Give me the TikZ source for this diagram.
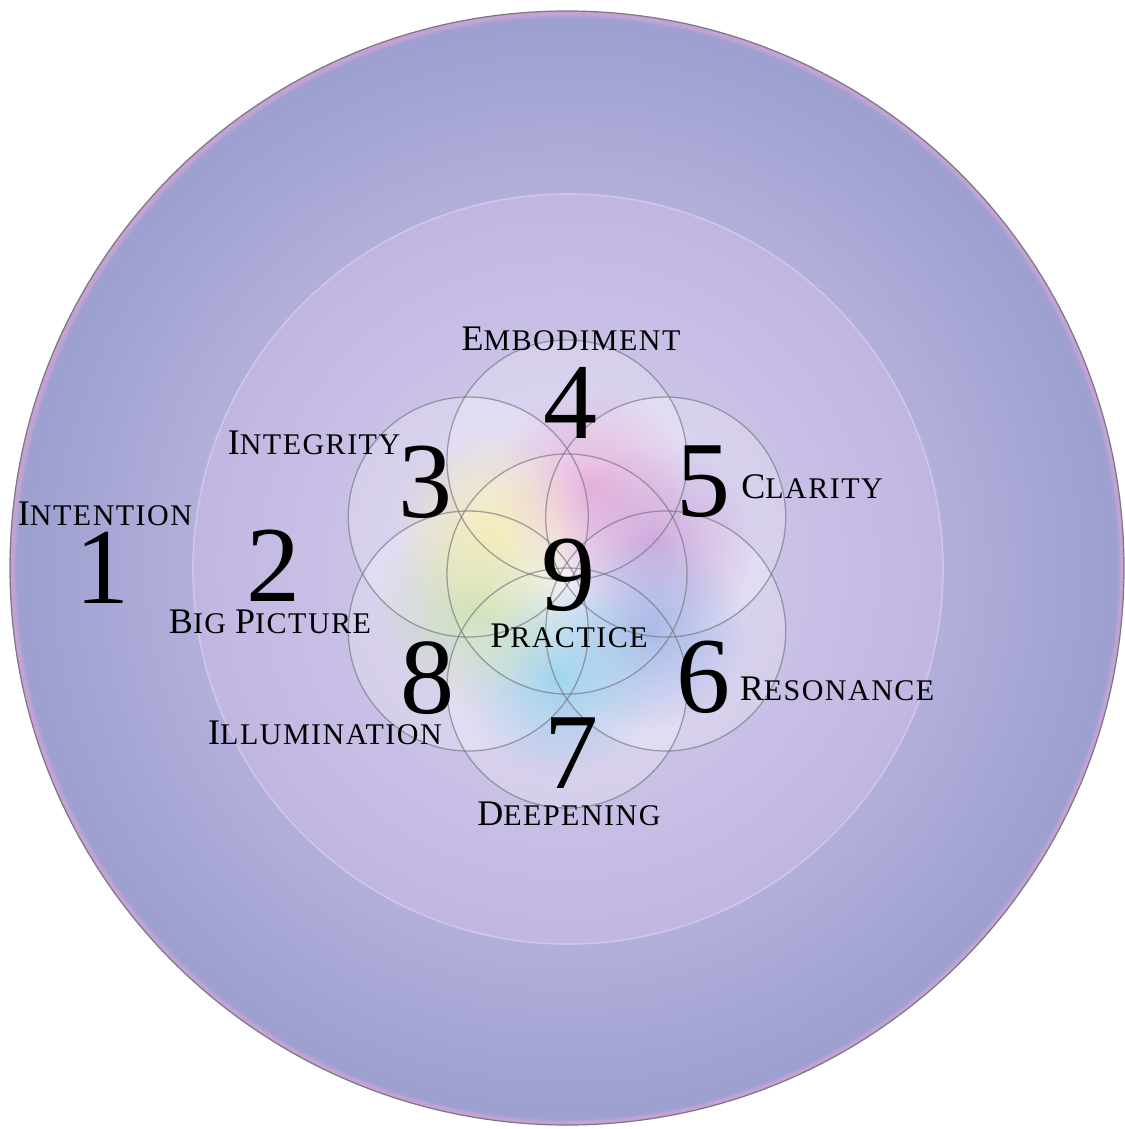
\documentclass[tikz,border=0pt]{standalone}
\usepackage{fontspec}
\setmainfont{Liberation Serif}
\usepackage{xcolor}
\usetikzlibrary{calc,fadings}
\definecolor{ringouter}{RGB}{158,160,208}
\definecolor{ringmid}{RGB}{178,175,219}
\definecolor{ringpink}{RGB}{196,162,212}
\definecolor{discedge}{RGB}{192,182,225}
\definecolor{discmid}{RGB}{206,197,233}
\definecolor{disccore}{RGB}{226,218,241}
\definecolor{edgeline}{RGB}{120,120,132}
\definecolor{ringline}{RGB}{208,198,232}
\definecolor{petalline}{RGB}{118,118,128}
\definecolor{blobpink}{RGB}{232,166,214}
\definecolor{blobmauve}{RGB}{200,156,216}
\definecolor{blobblue}{RGB}{148,176,230}
\definecolor{blobcyan}{RGB}{140,206,236}
\definecolor{blobgreen}{RGB}{196,224,172}
\definecolor{blobyellow}{RGB}{246,236,172}
\pgfdeclareradialshading{outerdisc}{\pgfpointorigin}{color(0bp)=(ringmid); color(16.8bp)=(ringmid); color(24.2bp)=(ringouter); color(24.7bp)=(ringouter); color(24.85bp)=(ringpink); color(25bp)=(ringpink); color(50bp)=(ringpink)}
\pgfdeclareradialshading{innerdisc}{\pgfpointorigin}{color(0bp)=(disccore); color(11bp)=(discmid); color(25bp)=(discedge); color(50bp)=(discedge)}
\tikzfading[name=softblob, inner color=transparent!0, outer color=transparent!100]
\newcommand{\initcap}[1]{{\fontsize{36}{36}\selectfont #1}}
\begin{document}
\begin{tikzpicture}[x=1pt, y=-1pt,
    numlabel/.style={font=\fontsize{108}{108}\selectfont, text=black, inner sep=0pt, anchor=base},
    namelabel/.style={font=\fontsize{30}{30}\selectfont\addfontfeature{LetterSpace=5}, text=black, inner sep=0pt, anchor=base},
    petal/.style={fill=white, fill opacity=0.24},
    petaledge/.style={draw=petalline, line width=1.3pt, draw opacity=0.65},
    blob/.style={path fading=softblob, fill opacity=0.8}
]
    \useasboundingbox (0,0) rectangle (1124,1129);
    \coordinate (hub) at (567,574);
    \foreach \ang/\nm in {90/p4, 30/p5, -30/p6, -90/p7, -150/p8, 150/p3}
        \coordinate (\nm) at ($(hub)+(\ang:114pt)$);

    % background rings
    \shade[shading=outerdisc] (567,568) circle[radius=557pt];
    \draw[edgeline, line width=1.2pt] (567,568) circle[radius=557pt];
    \shade[shading=innerdisc] (568,569) circle[radius=375pt];
    \draw[ringline, line width=1.6pt] (568,569) circle[radius=375pt];

    % petals
    \foreach \nm in {p3,p4,p5,p6,p7,p8}
        \fill[petal] (\nm) circle[radius=120pt];
    \fill[white, fill opacity=0.3] (hub) circle[radius=120pt];
    \foreach \ang/\dist/\col in {75/90/blobpink, 20/95/blobmauve, -35/100/blobblue, -95/105/blobcyan, -160/100/blobgreen, 150/90/blobyellow}
        \fill[\col, blob] ($(hub)+(\ang:\dist pt)$) circle[radius=98pt];
    \foreach \nm in {p3,p4,p5,p6,p7,p8}
        \draw[petaledge] (\nm) circle[radius=120pt];
    \draw[petaledge] (hub) circle[radius=120pt];

    % numbers
    \node[numlabel] (n1) at (102,603) {1};
    \node[numlabel] (n2) at (273,601) {2};
    \node[numlabel] (n3) at (425,517) {3};
    \node[numlabel] (n4) at (570,438) {4};
    \node[numlabel] (n5) at (703,516) {5};
    \node[numlabel] (n6) at (703,712) {6};
    \node[numlabel] (n7) at (571,788) {7};
    \node[numlabel] (n8) at (427,713) {8};
    \node[numlabel] (n9) at (568,610) {9};

    % names
    \node[namelabel] (intention) at (105,525) {\initcap{I}NTENTION};
    \node[namelabel] (bigpicture) at (270,633) {\initcap{B}IG \initcap{P}ICTURE};
    \node[namelabel] (integrity) at (314,454) {\initcap{I}NTEGRITY};
    \node[namelabel] (embodiment) at (571,350) {\initcap{E}MBODIMENT};
    \node[namelabel] (clarity) at (812,498) {\initcap{C}LARITY};
    \node[namelabel] (resonance) at (837,700) {\initcap{R}ESONANCE};
    \node[namelabel] (deepening) at (569,825) {\initcap{D}EEPENING};
    \node[namelabel] (illumination) at (325,744) {\initcap{I}LLUMINATION};
    \node[namelabel] (practice) at (569,647) {\initcap{P}RACTICE};
\end{tikzpicture}
\end{document}
